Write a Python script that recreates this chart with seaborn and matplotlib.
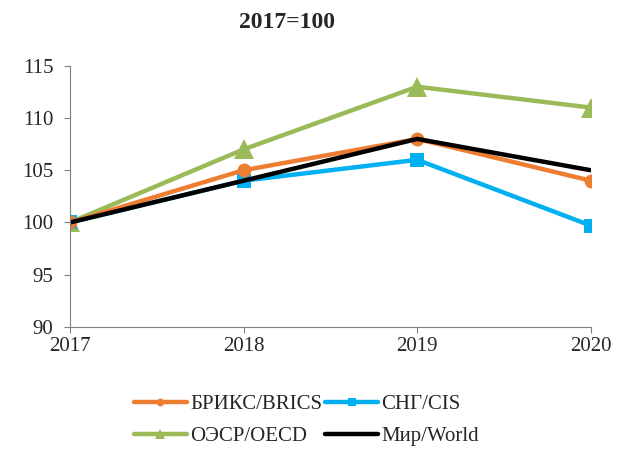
import matplotlib
matplotlib.use("Agg")
import matplotlib.pyplot as plt
import seaborn as sns
import pandas as pd

years = [2017, 2018, 2019, 2020]
brics = [100, 105, 108, 104]
cis = [100, 104, 106, 99.7]
oecd = [100, 107, 113, 111]
world = [100, 104, 108, 105]
names = ["БРИКС/BRICS", "СНГ/CIS", "ОЭСР/OECD", "Мир/World"]

sns.set_style("white")
plt.rcParams['font.family'] = ['Liberation Serif', 'DejaVu Serif']

df = pd.DataFrame({
    "year": years * 4,
    "value": brics + cis + oecd + world,
    "series": sum([[n] * 4 for n in names], []),
})

colors = {"БРИКС/BRICS": "#ED7D31", "СНГ/CIS": "#00B0F0",
          "ОЭСР/OECD": "#9BBB59", "Мир/World": "#000000"}
markers = {"БРИКС/BRICS": "o", "СНГ/CIS": "s", "ОЭСР/OECD": "^", "Мир/World": ""}
msizes = {"БРИКС/BRICS": 10, "СНГ/CIS": 10, "ОЭСР/OECD": 14, "Мир/World": 0}
order = ["ОЭСР/OECD", "СНГ/CIS", "БРИКС/BRICS", "Мир/World"]

fig = plt.figure(figsize=(6.36, 4.54), dpi=100)
ax = fig.add_axes([0.110, 0.280, 0.819, 0.575])

for n in order:
    sub = df[df.series == n]
    sns.lineplot(data=sub, x="year", y="value", ax=ax, color=colors[n],
                 linewidth=3.2, marker=markers[n] if markers[n] else None,
                 markersize=msizes[n], markeredgewidth=0, label=n)

ax.set_xlim(2017, 2020)
ax.set_ylim(90, 115)
ax.set_xticks(years)
ax.set_yticks([90, 95, 100, 105, 110, 115])
ax.set_xlabel("")
ax.set_ylabel("")
for s in ["top", "right"]:
    ax.spines[s].set_visible(False)
for s in ["left", "bottom"]:
    ax.spines[s].set_color("#808080")
    ax.spines[s].set_linewidth(0.8)
ax.tick_params(axis="both", which="both", length=4, color="#808080",
               direction="out", labelsize=15, bottom=True, left=True)
ax.tick_params(axis="y", pad=8)
ax.tick_params(axis="x", pad=3)

ax.get_legend().remove()
h, l = ax.get_legend_handles_labels()
hd = dict(zip(l, h))
leg_order = ["БРИКС/BRICS", "ОЭСР/OECD", "СНГ/CIS", "Мир/World"]
fig.legend([hd[k] for k in leg_order], leg_order, ncol=2, loc="center",
           bbox_to_anchor=(0.482, 0.074), frameon=False, fontsize=15,
           handlelength=2.55, columnspacing=0.15, handletextpad=0.15,
           labelspacing=0.6, markerscale=0.55)

fig.text(0.452, 0.951, "2017=100", ha="center", va="center",
         fontsize=17, fontweight="bold")

fig.savefig("out.png", dpi=100)
